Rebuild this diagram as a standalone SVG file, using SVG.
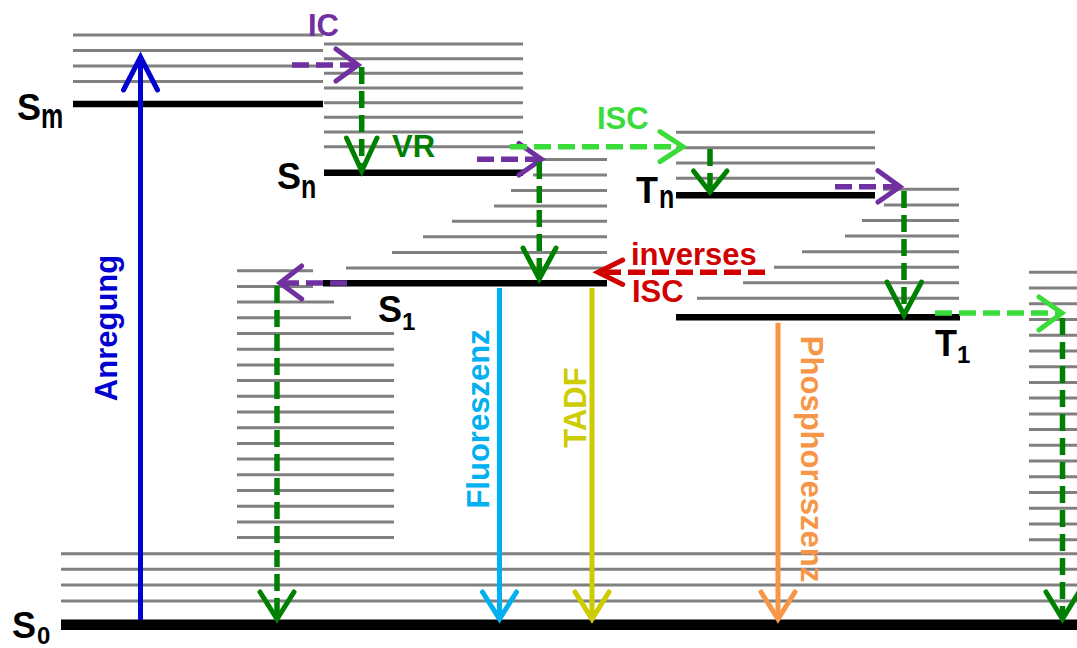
<svg xmlns="http://www.w3.org/2000/svg" width="1077" height="648" viewBox="0 0 1077 648">
<style>
text{font-family:"Liberation Sans",Arial,sans-serif;font-weight:bold}
.v{stroke:#808080;stroke-width:3;fill:none}
.lv{stroke:#000;stroke-width:6.5;fill:none}
.d{fill:none;stroke-width:5.5;stroke-dasharray:17 7}
.s{fill:none;stroke-width:5}
.h{fill:none;stroke-width:5;stroke-linecap:round;stroke-linejoin:miter}
.pu{stroke:#7030A0}.gr{stroke:#008000}.lg{stroke:#3ADC3A}.rd{stroke:#D00000}
.bl{stroke:#0000D0}.cy{stroke:#00B0F0}.ye{stroke:#CCCC00}.or{stroke:#F79646}
.lab{font-size:36px;fill:#000}.sub{font-size:24px;fill:#000}.sl{font-size:25px;fill:#000}
.t{font-size:31px}
</style>
<rect width="1077" height="648" fill="#fff"/>
<g id="S0">
<path class="v" d="M61 553.7H1077M61 569.3H1077M61 585H1077M61 601H1077"/>
<path d="M61 624.7H1077" stroke="#000" stroke-width="10.5"/>
<text class="lab" x="12" y="638">S</text><text class="sub" x="37" y="644">0</text>
</g>
<g id="S1">
<path class="v" d="M237 270.7H313M237 286.4H313M237 302.1H334M237 317.8H351M237 333.5H394M237 349.2H394M237 364.9H394M237 380.6H394M237 396.3H394M237 412H394M237 427.7H394M237 443.4H394M237 459.1H394M237 474.8H394M237 490.5H394M237 506.2H394M237 521.9H394M237 537.6H394"/>
<path class="v" d="M533 159.5H607M533 175H607M511 190.5H607M494 206H607M452 221.3H607M423 236.8H607M392 252.4H607M346 268H607"/>
<path class="lv" d="M323 283.3H607"/>
<text class="lab" x="378" y="322">S</text><text class="sub" x="402" y="330">1</text>
</g>
<g id="Sm">
<path class="v" d="M73 35H323M73 50.5H323M73 66H323M73 81.5H323"/>
<path class="lv" d="M73 104H323"/>
<text class="lab" x="17" y="120">S</text><text class="sl" transform="translate(41 128) scale(1 1.4)">m</text>
</g>
<g id="Sn">
<path class="v" d="M324 44H523M324 58.7H523M324 73.3H523M324 88H523M324 102.7H523M324 117.3H523M324 132H523M324 146.7H523"/>
<path class="lv" d="M324 172.7H523"/>
<text class="lab" x="277" y="189">S</text><text class="sl" transform="translate(301 198) scale(1 1.35)">n</text>
</g>
<g id="Tn">
<path class="v" d="M676 132.3H875M676 147.7H875M676 163H875M676 178.3H875"/>
<path class="lv" d="M676 195.3H875"/>
<text class="lab" x="636" y="203">T</text><text class="sl" transform="translate(659 208) scale(1 1.35)">n</text>
</g>
<g id="T1">
<path class="v" d="M883 189.3H959M884 205H959M862 220.5H959M845 236H959M802 251.7H959M774 267.2H959M743 282.7H959M697 298.3H959"/>
<path class="lv" d="M676 317.3H960"/>
<text class="lab" x="935" y="356">T</text><text class="sub" x="957" y="363">1</text>
</g>
<g id="T1vib">
<path class="v" d="M1029 272.3H1077M1029 288H1077M1029 303.8H1077M1029 319.5H1077M1029 335.2H1077M1029 351H1077M1029 366.7H1077M1029 382.4H1077M1029 398.1H1077M1029 413.9H1077M1029 429.6H1077M1029 445.3H1077M1029 461.1H1077M1029 476.8H1077M1029 492.5H1077M1029 508.3H1077M1029 524H1077M1029 539.7H1077"/>
</g>
<g id="connectors">
<path class="s bl" d="M140.5 620V60"/><polyline class="h bl" points="123.5,90 140.5,57 157.5,90"/>
<path class="d pu" d="M292 65H356"/><polyline class="h pu" points="336,49 358,65 336,81"/>
<path class="d gr" d="M361.7 67V168"/><polyline class="h gr" points="346.5,138 361.7,171 377,138"/>
<path class="d pu" d="M477 159.3H538"/><polyline class="h pu" points="519,143.5 541.5,159.3 519,175"/>
<path class="d lg" d="M510 146.7H680"/><polyline class="h lg" points="660,131.7 683,146.7 660,161.7"/>
<path class="d gr" d="M539.3 162V275"/><polyline class="h gr" points="523,248 539.3,279 556,248"/>
<path class="d gr" d="M710 149V189"/><polyline class="h gr" points="693.5,171 710,192 727,171"/>
<path class="d pu" d="M835 186.7H897"/><polyline class="h pu" points="878,170.7 900,186.7 878,202"/>
<path class="d gr" d="M904 191V312"/><polyline class="h gr" points="887,282 904,315 921.5,282"/>
<path class="d lg" d="M935 313H1059"/><polyline class="h lg" points="1039,297 1062,313 1039,330"/>
<path class="d gr" d="M1062.5 318V616"/><polyline class="h gr" points="1046,592 1062.5,619 1079,592"/>
<path class="d pu" d="M347 283H283"/><polyline class="h pu" points="301.7,266 280,283 301.7,299"/>
<path class="d gr" d="M277 286V616"/><polyline class="h gr" points="260,592 277,619 294,592"/>
<path class="s cy" d="M499.5 288V616"/><polyline class="h cy" points="482.5,592 499.5,619 516.5,592"/>
<path class="s ye" d="M592 288V616"/><polyline class="h ye" points="575,592 592,619 609,592"/>
<path class="s or" d="M778 322.7V616"/><polyline class="h or" points="761,592 778,619 795,592"/>
<path class="d rd" d="M765 272.3H601"/><polyline class="h rd" points="622.7,260 598,272.3 622.7,284.5"/>
<text class="t" x="308" y="36" fill="#7030A0">IC</text>
<text class="t" x="392" y="157" fill="#008000">VR</text>
<text class="t" x="597" y="129" fill="#3ADC3A">ISC</text>
<text class="t" x="631" y="265" fill="#D00000">inverses</text>
<text class="t" x="632" y="302" fill="#D00000">ISC</text>
<text class="t" transform="translate(116.5 328) rotate(-90)" text-anchor="middle" fill="#0000D0">Anregung</text>
<text class="t" transform="translate(489 419) rotate(-90)" text-anchor="middle" fill="#00B0F0">Fluoreszenz</text>
<text class="t" transform="translate(586 407.5) rotate(-90)" text-anchor="middle" fill="#CCCC00">TADF</text>
<text class="t" transform="translate(800.5 459) rotate(90)" text-anchor="middle" fill="#F79646">Phosphoreszenz</text>
</g>
</svg>
